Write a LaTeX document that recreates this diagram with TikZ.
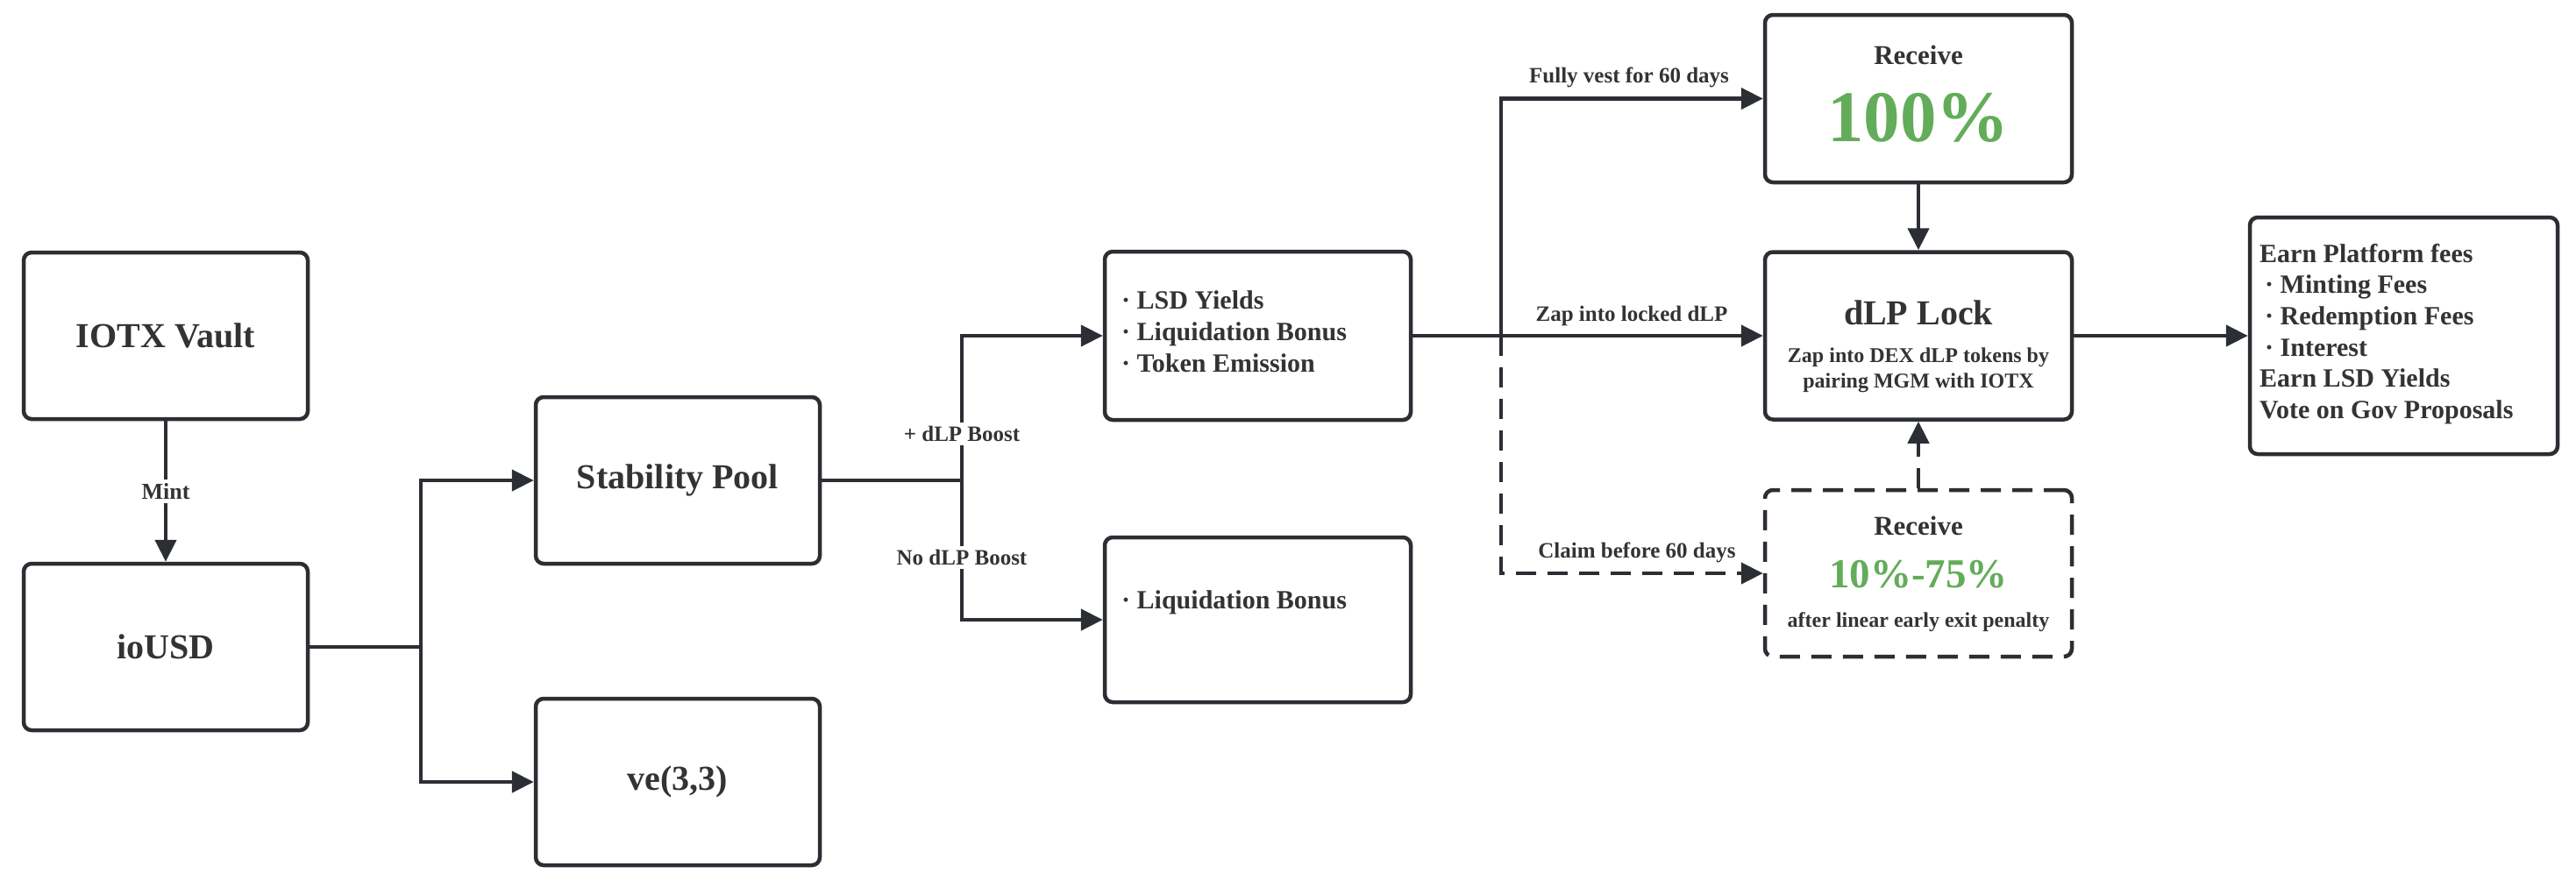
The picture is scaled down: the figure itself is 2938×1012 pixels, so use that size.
\documentclass[tikz,border=0pt]{standalone}
\usepackage{fontspec}
\setmainfont{Liberation Serif}
\usetikzlibrary{arrows.meta}
\definecolor{ink}{HTML}{333333}
\definecolor{edge}{HTML}{2B2E33}
\definecolor{grn}{HTML}{63AC59}
\newcommand\fpx[1]{\fontsize{#1}{#1}\selectfont\bfseries}
\begin{document}
\begin{tikzpicture}[x=1pt,y=-1pt,
  box/.style={draw=edge, line width=4.5pt, rounded corners=9pt, fill=white,
    minimum width=350pt, minimum height=191pt, inner sep=0pt, text=ink, align=center},
  bigtxt/.style={font=\fpx{40}},
  conn/.style={draw=edge, line width=4.5pt},
  arr/.style={conn, -{Triangle[length=25pt,width=24pt]}},
  dsh/.style={dash pattern=on 23pt off 13pt},
  elab/.style={font=\fpx{25}, text=ink, inner sep=4pt},
  txt/.style={text=ink, inner sep=0pt}
]
\useasboundingbox (0,0) rectangle (2938,1012);
\fill[white] (0,0) rectangle (2938,1012);

% boxes
\node[box, bigtxt, minimum width=324pt, minimum height=190pt] (iotx) at (189,383) {IOTX Vault};
\node[box, bigtxt, minimum width=324pt, minimum height=190pt] (iousd) at (189,738) {ioUSD};
\node[box, bigtxt, minimum width=324pt, minimum height=190pt] (sp) at (773,548) {Stability Pool};
\node[box, bigtxt, minimum width=324pt, minimum height=190pt] (ve) at (773,892) {ve(3,3)};
\node[box, minimum width=349pt, minimum height=192pt] (lsd) at (1434.5,383) {};
\node[box, minimum width=349pt, minimum height=188pt] (liq) at (1434.5,707) {};
\node[box, minimum width=350pt, minimum height=191pt] (r100) at (2188,112.5) {};
\node[box, minimum width=350pt, minimum height=191pt] (dlp) at (2188,383) {};
\node[box, dsh, minimum width=350pt, minimum height=190pt] (rdash) at (2188,654) {};
\node[box, minimum width=351pt, minimum height=270pt] (earn) at (2741.5,383) {};

% box texts
\node[txt, anchor=west, align=left, font=\fpx{30}] (lsdt) at (1279,378)
  {· LSD Yields\\[6pt]· Liquidation Bonus\\[6pt]· Token Emission};
\node[txt, anchor=west, font=\fpx{30}] (liqt) at (1279,687) {· Liquidation Bonus};
\node[txt, font=\fpx{31}] (r100a) at (2188,63) {Receive};
\node[txt, font=\fpx{83}, text=grn] (r100b) at (2188,134) {100\%};
\node[txt, font=\fpx{40}] (dlpa) at (2188,357) {dLP Lock};
\node[txt, font=\fpx{24}, align=center] (dlpb) at (2188,422) {Zap into DEX dLP tokens by\\[5pt]pairing MGM with IOTX};
\node[txt, font=\fpx{31}] (rda) at (2188,600) {Receive};
\node[txt, font=\fpx{47}, text=grn] (rdb) at (2188,655) {10\%-75\%};
\node[txt, font=\fpx{24}] (rdc) at (2188,710) {after linear early exit penalty};
\node[txt, anchor=west, align=left, font=\fpx{30}] (earnt) at (2577,381)
  {Earn Platform fees\\[5.6pt]
   \hspace*{6pt}· Minting Fees\\[5.6pt]
   \hspace*{6pt}· Redemption Fees\\[5.6pt]
   \hspace*{6pt}· Interest\\[5.6pt]
   Earn LSD Yields\\[5.6pt]
   Vote on Gov Proposals};

% branch points
\coordinate (b1) at (480,738);
\coordinate (b2) at (1097,548);
\coordinate (b3) at (1712,383);

% connectors
\draw[arr] (iotx) -- (iousd) node[midway, elab, fill=white, font=\fpx{26}] (mint) {Mint};
\draw[conn] (iousd.east) -- (b1);
\draw[arr] (b1) |- (sp);
\draw[arr] (b1) |- (ve);
\draw[conn] (sp.east) -- (b2);
\draw[arr] (b2) |- (lsd);
\draw[arr] (b2) |- (liq);
\node[elab, fill=white] (boost) at (1097,495) {+ dLP Boost};
\node[elab, fill=white] (noboost) at (1097,636) {No dLP Boost};
\draw[arr] (lsd.east) -- (dlp.west);
\draw[arr] (b3) |- (r100);
\draw[arr, dsh] (b3) |- (rdash);
\node[elab] (fv) at (1858,88) {Fully vest for 60 days};
\node[elab] (zl) at (1861,360) {Zap into locked dLP};
\node[elab] (cb) at (1867,630) {Claim before 60 days};
\draw[arr] (r100) -- (dlp);
\draw[arr, dsh] (rdash) -- (dlp);
\draw[arr] (dlp) -- (earn);
\end{tikzpicture}
\end{document}
